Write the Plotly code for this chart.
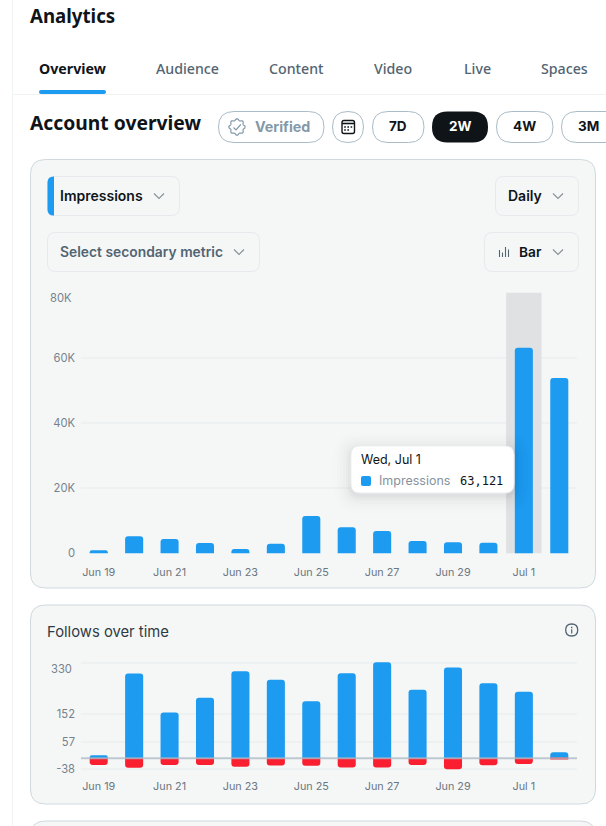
import math
import plotly.graph_objects as go

W, H = 606, 826

# Shared dates for both charts
dates = ["Jun 19", "Jun 20", "Jun 21", "Jun 22", "Jun 23", "Jun 24", "Jun 25",
         "Jun 26", "Jun 27", "Jun 28", "Jun 29", "Jun 30", "Jul 1", "Jul 2"]
date_ticks = dates[::2]

# Daily impressions
impressions = [900, 5200, 4400, 3170, 1300, 2950, 11450,
               8000, 6850, 3780, 3380, 3250, 63121, 53800]
impression_ticks = [0, 20000, 40000, 60000, 80000]
impression_tick_labels = ["0", "20K", "40K", "60K", ""]

# Follows and unfollows per day
follows = [10, 292, 158, 209, 300, 271, 197, 293, 331, 236, 313, 259, 229, 21]
unfollows = [-23, -33, -23, -23, -29, -25, -26, -32, -32, -23, -38, -24, -20, -2]
follow_ticks = [-38, 57, 152, 330]
follow_tick_labels = ["-38", "57", "152", ""]

# Header text
tabs = ["Overview", "Audience", "Content", "Video", "Live", "Spaces"]
ranges = ["7D", "2W", "4W", "3M"]

BLUE = "#1d9bf0"
RED = "#f91f30"
INK = "#0f1419"
SLATE = "#536471"
CARD = "#f5f7f7"
EDGE = "#cfd9de"
GRID = "#eef1f2"
TICK = "#75828c"
UI_FONT = "Noto Sans"
CHART_FONT = "Inter"


def px(x):
    return x / W


def py(y):
    return 1 - y / H


def rounded(x0, y0, x1, y1, r=None, tl=None, tr=None, br=None, bl=None):
    """SVG path of a rounded rectangle given in page pixels."""
    tl = r if tl is None else tl
    tr = r if tr is None else tr
    br = r if br is None else br
    bl = r if bl is None else bl
    p = lambda x, y: f"{px(x):.5f},{py(y):.5f}"
    return (f"M {p(x0 + tl, y0)} L {p(x1 - tr, y0)} Q {p(x1, y0)} {p(x1, y0 + tr)} "
            f"L {p(x1, y1 - br)} Q {p(x1, y1)} {p(x1 - br, y1)} "
            f"L {p(x0 + bl, y1)} Q {p(x0, y1)} {p(x0, y1 - bl)} "
            f"L {p(x0, y0 + tl)} Q {p(x0, y0)} {p(x0 + tl, y0)} Z")


def polyline(points):
    return "M " + " L ".join(f"{px(x):.5f},{py(y):.5f}" for x, y in points)


shapes = []
annotations = []


def box(x0, y0, x1, y1, r, fill="rgba(0,0,0,0)", line=None, width=1, layer="below", **corners):
    shapes.append(dict(type="path", path=rounded(x0, y0, x1, y1, r, **corners),
                       xref="paper", yref="paper", fillcolor=fill, layer=layer,
                       line=dict(color=line or "rgba(0,0,0,0)", width=width if line else 0)))


def stroke(points, color, width=1.3, layer="below"):
    shapes.append(dict(type="path", path=polyline(points), xref="paper", yref="paper",
                       line=dict(color=color, width=width), layer=layer))


def chevron(cx, cy):
    stroke([(cx - 5, cy - 2.5), (cx, cy + 2.5), (cx + 5, cy - 2.5)], "#8a939b", 1.2)


def label(x, y, text, size, color=INK, weight=400, family=UI_FONT, anchor="left"):
    annotations.append(dict(x=px(x), y=py(y), xref="paper", yref="paper", text=text,
                            showarrow=False, xanchor=anchor, yanchor="middle", borderpad=0,
                            font=dict(size=size, color=color, weight=weight, family=family)))


# Page furniture
shapes.append(dict(type="line", x0=px(12.5), x1=px(12.5), y0=0, y1=1, xref="paper", yref="paper",
                   line=dict(color="#eff3f4", width=1), layer="below"))
shapes.append(dict(type="line", x0=px(13), x1=1, y0=py(94.5), y1=py(94.5), xref="paper", yref="paper",
                   line=dict(color="#eff3f4", width=1), layer="below"))
box(39, 90, 106, 94, 2, fill=BLUE)

label(29, 16, "Analytics", 18.7, weight=700)
tab_x = [38, 155, 268, 373, 463, 540]
for i, (tab, x) in enumerate(zip(tabs, tab_x)):
    label(x, 68.5, tab, 14.2, INK if i == 0 else SLATE, 700 if i == 0 else 500)
label(29, 122.5, "Account overview", 19.3, weight=700)

# Range selector chips
CHIP = "#a9bcc8"
box(218.5, 111.5, 324, 142.5, 15.5, line=CHIP)
box(332.5, 111.5, 363.5, 142.5, 15.5, line=CHIP)
chip_edges = [(372.5, 424), (432, 488), (496.5, 553), (561.5, 625)]
for text, (x0, x1) in zip(ranges, chip_edges):
    active = text == "2W"
    box(x0, 111.5, x1, 142.5, 15.5, fill="#0f1419" if active else "rgba(0,0,0,0)",
        line=None if active else CHIP)
    cx = 588 if text == "3M" else (x0 + x1) / 2
    label(cx, 126.5, text, 13.5, "#ffffff" if active else INK, 700, CHART_FONT, "center")
label(253.5, 126.5, "Verified", 14.3, "#8399a8", 700, CHART_FONT)

# Verified badge outline with a check inside
badge = []
for k in range(97):
    a = 2 * math.pi * k / 96
    rad = 7.4 + 0.8 * math.cos(8 * a)
    badge.append((237 + rad * math.cos(a), 127 + rad * math.sin(a)))
stroke(badge, "#8399a8", 1.2)
stroke([(233.5, 127.5), (236, 130), (240.8, 124.5)], "#8399a8", 1.2)

# Calendar glyph
box(342, 120.5, 354.5, 133.5, 2, line=INK, width=1.4)
shapes.append(dict(type="line", x0=px(342), x1=px(354.5), y0=py(123.5), y1=py(123.5), xref="paper",
                   yref="paper", line=dict(color=INK, width=1.6), layer="below"))
for dx, dy in [(345, 127), (348.2, 127), (351.4, 127), (345, 130), (348.2, 130)]:
    box(dx - 0.8, dy - 0.8, dx + 0.8, dy + 0.8, 0, fill=INK)

# Cards
box(30.5, 159.5, 595.5, 588, 15, fill=CARD, line=EDGE)
box(30.5, 605, 595.5, 804, 15, fill=CARD, line=EDGE)
box(30.5, 821, 595.5, 860, 15, fill=CARD, line=EDGE)

# Metric dropdowns
DROP = "#e6eaed"
box(47.5, 176.5, 179.5, 215.5, 8, line=DROP)
box(47.5, 176.5, 54, 215.5, 0, fill=BLUE, tl=6, bl=6, tr=0, br=0)
label(58.5, 195.5, "Impressions", 14, INK, 600, CHART_FONT)
chevron(159, 196)
box(47.5, 232.5, 259.5, 271.5, 8, line=DROP)
label(58.5, 251.5, "Select secondary metric", 13.85, SLATE, 600, CHART_FONT)
chevron(239, 252)
box(495.5, 176.5, 578.5, 215.5, 8, line=DROP)
label(506.5, 195.5, "Daily", 14, INK, 600, CHART_FONT)
chevron(558, 196)
box(484.5, 232.5, 578.5, 271.5, 8, line=DROP)
label(517.5, 251.5, "Bar", 13.7, INK, 600, CHART_FONT)
chevron(558, 252)
for bx, top in [(499.5, 250), (502.5, 252.5), (505.5, 247), (508.5, 249.5)]:
    shapes.append(dict(type="line", x0=px(bx), x1=px(bx), y0=py(top), y1=py(257), xref="paper",
                       yref="paper", line=dict(color=SLATE, width=1.1), layer="below"))

# Follows card heading and info glyph
label(45.5, 631.5, "Follows over time", 14.8, "#2f3b44", 400, CHART_FONT)
box(565.7, 624, 577.7, 636, 6, line=SLATE, width=1.3)
box(571, 626.8, 572.4, 628.2, 0, fill=SLATE)
box(571.1, 629.2, 572.3, 633.4, 0, fill=SLATE)

# Hover highlight behind the Jul 1 bar, over the gridlines
shapes.append(dict(type="rect", xref="x", yref="y", x0=11.5, x1=12.5, y0=0, y1=80000,
                   fillcolor="#dfe1e3", line=dict(width=0), layer="between"))

# Zero baseline over the follows bars
shapes.append(dict(type="line", xref="x2", yref="y2", x0=-0.5, x1=13.5, y0=0, y1=0,
                   line=dict(color="rgba(170,184,196,0.75)", width=2), layer="above"))

# Tooltip with a soft stacked shadow
for grow, alpha in [(18, 0.005), (14, 0.007), (11, 0.009), (8, 0.011), (5, 0.014), (3, 0.018), (1, 0.025)]:
    box(351 - grow, 446 - grow + 3, 514 + grow, 493 + grow + 3, 9 + grow,
        fill=f"rgba(15,20,25,{alpha})", layer="above")
box(351, 446, 514, 493, 9, fill="#ffffff", line="#eceff1", layer="above")
box(361, 476, 371, 486, 2, fill=BLUE, layer="above")
label(359.5, 459.5, "Wed, Jul 1", 12.5, INK, 400, CHART_FONT)
label(377.5, 480.5, "Impressions", 12.5, "#87939d", 400, CHART_FONT)
label(458.5, 481, f"{impressions[12]:,}", 12, INK, 400, "DejaVu Sans Mono")

# Top labels sit a few pixels below their gridlines
annotations.append(dict(x=px(73), xref="paper", xanchor="right", y=impression_ticks[-1], yref="y",
                        yanchor="middle", yshift=-5, showarrow=False, borderpad=0, text="80K",
                        font=dict(size=11.2, color=TICK, family=CHART_FONT)))
annotations.append(dict(x=px(73), xref="paper", xanchor="right", y=follow_ticks[-1], yref="y2",
                        yanchor="middle", yshift=-6, showarrow=False, borderpad=0,
                        text=str(follow_ticks[-1]),
                        font=dict(size=11.2, color=TICK, family=CHART_FONT)))

fig = go.Figure()
fig.add_trace(go.Bar(x=dates, y=impressions, name="Impressions", marker_color=BLUE,
                     marker_line_width=0, xaxis="x", yaxis="y"))
fig.add_trace(go.Bar(x=dates, y=follows, name="Follows", marker_color=BLUE,
                     marker_line_width=0, xaxis="x2", yaxis="y2"))
fig.add_trace(go.Bar(x=dates, y=unfollows, name="Unfollows", marker_color=RED,
                     marker_line_width=0, xaxis="x2", yaxis="y2"))

x_style = dict(type="category", categoryorder="array", categoryarray=dates, range=[-0.5, 13.5],
               tickmode="array", tickvals=date_ticks, ticks="", showgrid=False, zeroline=False,
               showline=False, tickfont=dict(size=10.8, color="#6b7680", family=CHART_FONT),
               domain=[px(81), px(577)], tickangle=0, automargin=False)
y_style = dict(showline=False, ticks="", zeroline=False, gridcolor=GRID, gridwidth=2,
               tickmode="array", tickfont=dict(size=11.2, color=TICK, family=CHART_FONT),
               ticklabelstandoff=5, automargin=False)

# Both value ranges run about a pixel past the outer gridlines so those stay drawn
fig.update_layout(
    width=W, height=H, autosize=False, margin=dict(l=0, r=0, t=0, b=0, pad=0, autoexpand=False),
    paper_bgcolor="#ffffff", plot_bgcolor="rgba(0,0,0,0)", showlegend=False,
    barmode="relative", bargap=0.49, barcornerradius=3,
    shapes=shapes, annotations=annotations,
    xaxis=dict(anchor="y", ticklabelstandoff=10, **x_style),
    yaxis=dict(anchor="x", domain=[py(554.3), py(291.7)], range=[-307, 80307],
               tickvals=impression_ticks, ticktext=impression_tick_labels, **y_style),
    xaxis2=dict(anchor="y2", ticklabelstandoff=8, **x_style),
    yaxis2=dict(anchor="x2", domain=[py(770.3), py(661.4)], range=[-41.5, 334],
                tickvals=follow_ticks, ticktext=follow_tick_labels, **y_style),
)

fig.write_html("out.html")
